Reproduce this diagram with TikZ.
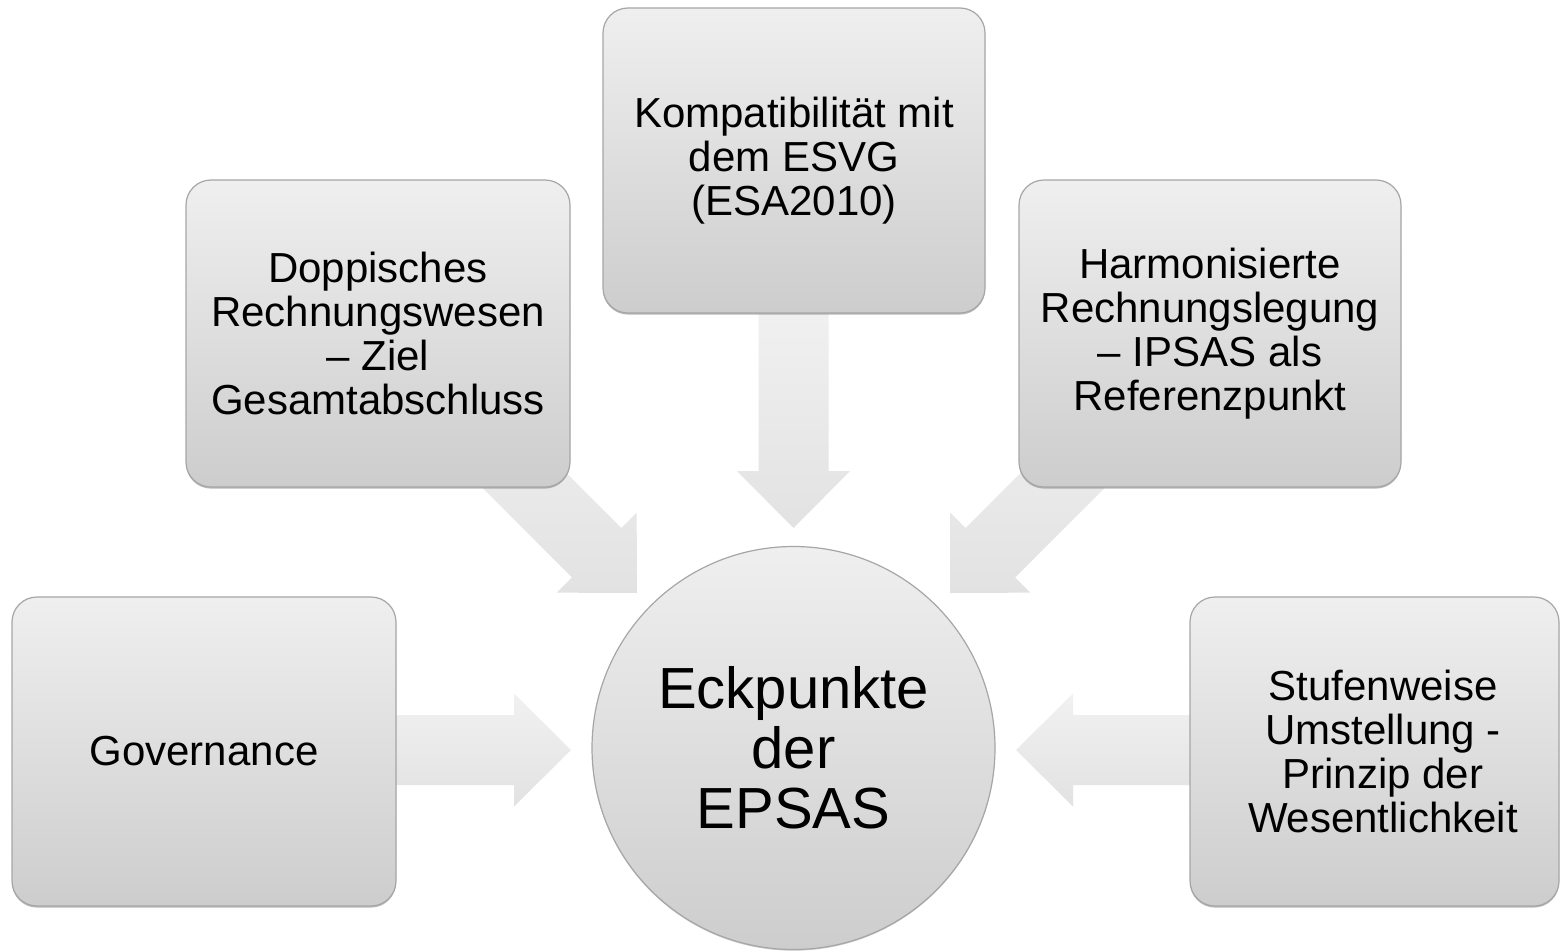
\documentclass[tikz,border=0pt]{standalone}
\usepackage{fontspec}
\setmainfont{Liberation Sans}
\usetikzlibrary{calc,shadows}

\definecolor{boxtop}{HTML}{EFEFEF}
\definecolor{boxbot}{HTML}{CDCDCD}
\definecolor{boxline}{HTML}{A6A6A6}
\definecolor{arrowtop}{HTML}{F1F1F1}
\definecolor{arrowbot}{HTML}{E2E2E2}

% block arrow from tail #2 to tip #3 (shaft 70, head 113 wide, 57 long)
\newcommand\blockarrow[3]{%
  \coordinate (#1h) at ($(#3)!57pt!(#2)$);
  \path[arrowbody]
    ($(#2)!35pt!90:(#3)$) -- ($(#1h)!35pt!90:(#3)$) -- ($(#1h)!56.5pt!90:(#3)$)
    -- (#3)
    -- ($(#1h)!56.5pt!-90:(#3)$) -- ($(#1h)!35pt!-90:(#3)$) -- ($(#2)!35pt!-90:(#3)$)
    -- cycle;}

\begin{document}
\begin{tikzpicture}[x=1pt,y=-1pt,
  arrowbody/.style={top color=arrowtop, bottom color=arrowbot, draw=none},
  topicbox/.style={rectangle, rounded corners=25pt, draw=boxline, line width=1.2pt,
    top color=boxtop, bottom color=boxbot,
    drop shadow={shadow xshift=0pt, shadow yshift=-1.6pt, opacity=0.55, fill=gray},
    minimum width=384pt, minimum height=307pt, inner sep=0pt,
    align=center, font=\fontsize{42}{44}\selectfont},
  hub/.style={circle, draw=boxline, line width=1.2pt,
    top color=boxtop, bottom color=boxbot,
    drop shadow={shadow xshift=0pt, shadow yshift=-1.2pt, opacity=0.4, fill=gray},
    minimum size=403pt, inner sep=0pt,
    align=center, font=\fontsize{58}{60}\selectfont},
  boxtext/.style={align=center, inner sep=0pt, font=\fontsize{42}{44}\selectfont}]

\useasboundingbox (0,0) rectangle (1560,950);
\fill[white] (0,0) rectangle (1560,950);

% arrow end points
\coordinate (tTop)   at (793.5,300);  \coordinate (pTop)   at (793.5,528);
\coordinate (tLeft)  at (380,750);    \coordinate (pLeft)  at (571,750);
\coordinate (tRight) at (1205,750);   \coordinate (pRight) at (1016,750);
\coordinate (tTL)    at (437,393);    \coordinate (pTL)    at (637,593);
\coordinate (tTR)    at (1150,393);   \coordinate (pTR)    at (950,593);

% arrows pointing at the hub
\blockarrow{aTop}{tTop}{pTop}
\blockarrow{aLeft}{tLeft}{pLeft}
\blockarrow{aRight}{tRight}{pRight}
\blockarrow{aTL}{tTL}{pTL}
\blockarrow{aTR}{tTR}{pTR}

% topic boxes
\node[topicbox, minimum width=382pt, minimum height=305pt] (compat) at (794,160.5)
  {Kompatibilität mit\\dem ESVG\\(ESA2010)};
\node[topicbox] (doppik) at (378,333.5)
  {Doppisches\\Rechnungswesen\\– Ziel\\Gesamtabschluss};
\node[topicbox, minimum width=382pt] (harmon) at (1210,333.5)
  {Harmonisierte\\Rechnungslegung\\– IPSAS als\\Referenzpunkt};
\node[topicbox, minimum height=309pt] (gov) at (204,751.5) {Governance};
\node[topicbox, minimum width=369pt, minimum height=309pt] (stufen) at (1374.5,751.5) {};
\node[boxtext] (stufentext) at (1383,751.5)
  {Stufenweise\\Umstellung -\\Prinzip der\\Wesentlichkeit};

% central hub
\node[hub] (hubnode) at (793.5,748) {Eckpunkte\\der\\EPSAS};

\end{tikzpicture}
\end{document}
